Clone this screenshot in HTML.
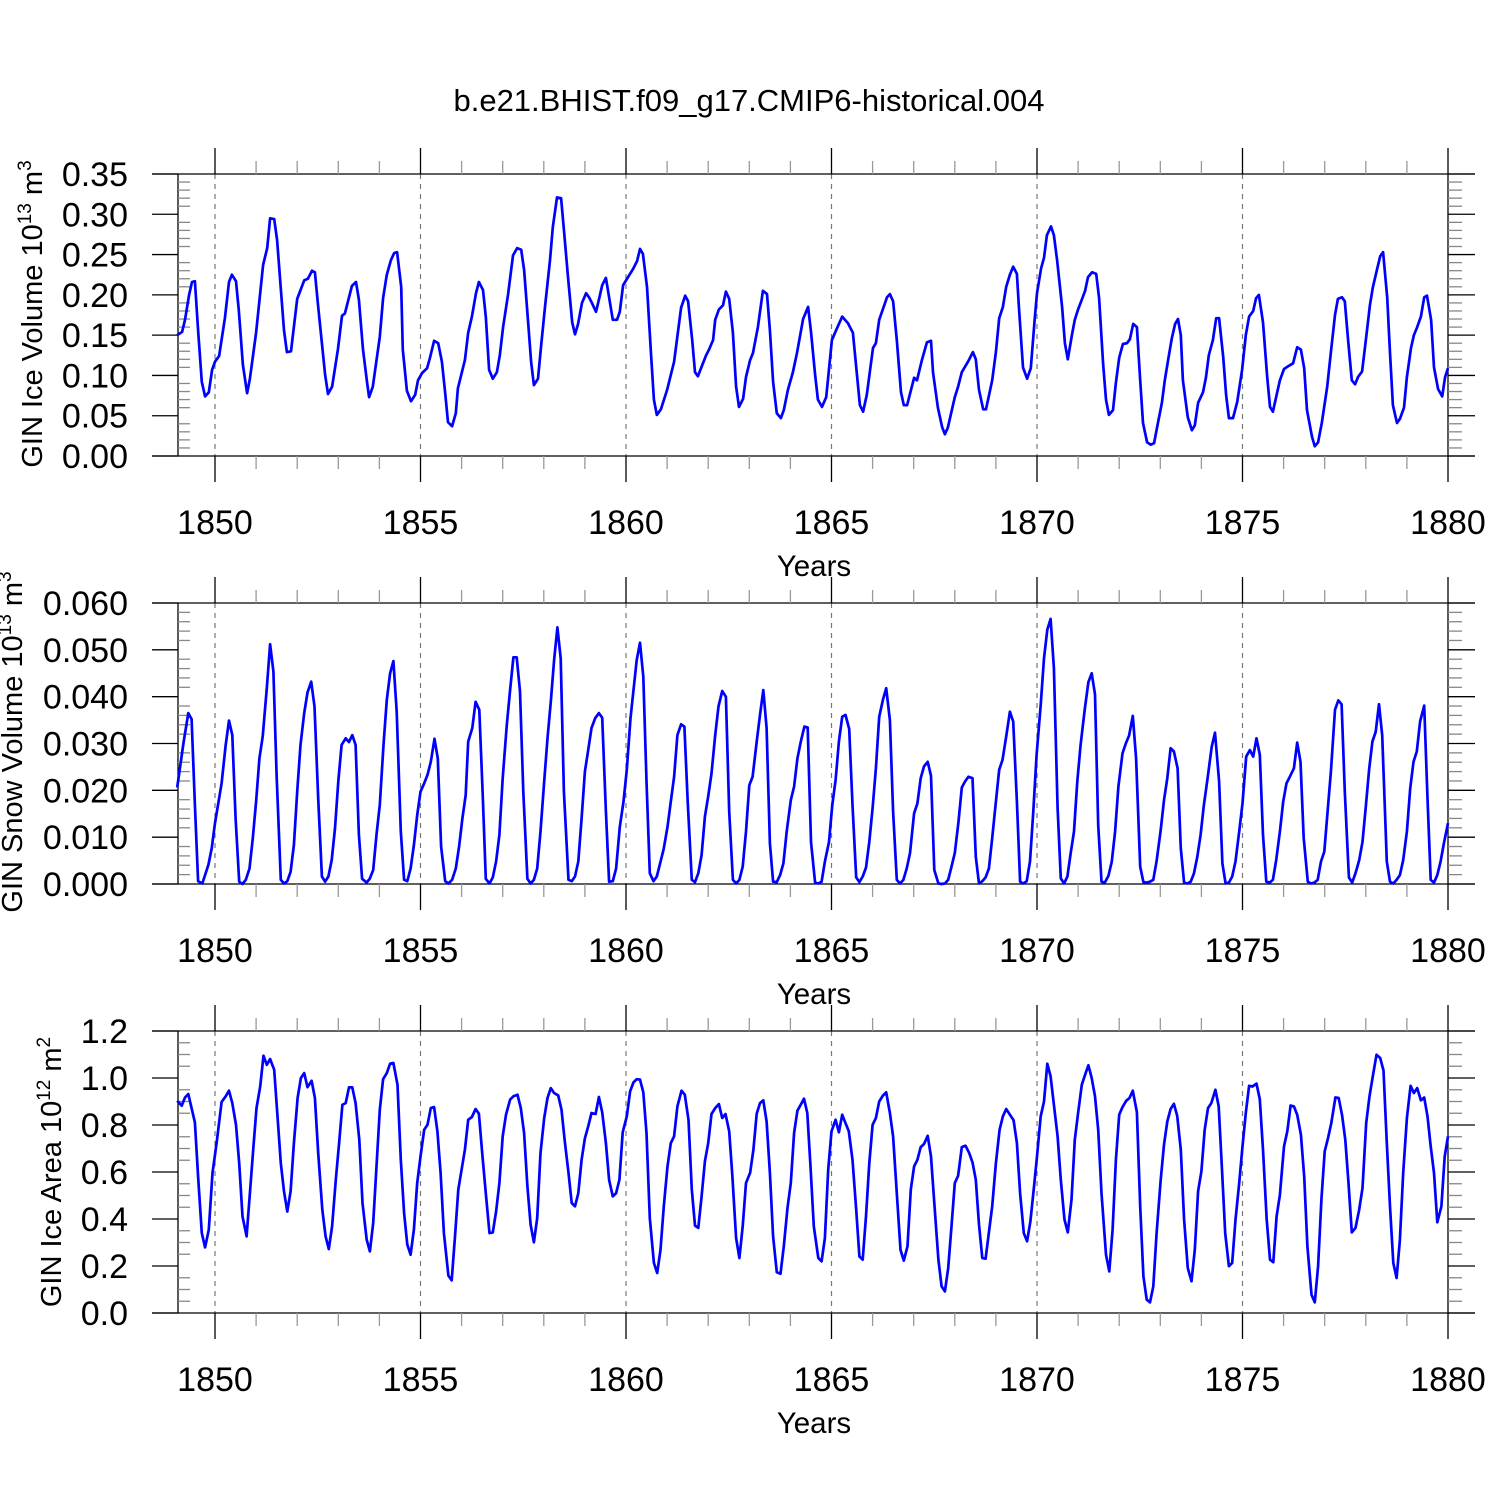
<!DOCTYPE html>
<html>
<head>
<meta charset="utf-8">
<style>
  html,body{margin:0;padding:0;background:#fff;}
  svg{display:block;}
  text{font-family:"Liberation Sans",Arial,sans-serif;fill:#000;}
</style>
</head>
<body>
<svg id="chart" width="1500" height="1500" viewBox="0 0 1500 1500" xmlns="http://www.w3.org/2000/svg">
  <rect x="0" y="0" width="1500" height="1500" fill="#fff"/>
  <text x="749" y="111" font-size="31" text-anchor="middle">b.e21.BHIST.f09_g17.CMIP6-historical.004</text>

  <text transform="translate(42,314) rotate(-90)" font-size="29" text-anchor="middle">GIN Ice Volume 10<tspan dy="-11" font-size="19">13</tspan><tspan dy="11"> m</tspan><tspan dy="-11" font-size="19">3</tspan></text>
  <text transform="translate(22,742) rotate(-90)" font-size="29" text-anchor="middle">GIN Snow Volume 10<tspan dy="-11" font-size="19">13</tspan><tspan dy="11"> m</tspan><tspan dy="-11" font-size="19">3</tspan></text>
  <text transform="translate(61,1172) rotate(-90)" font-size="29" text-anchor="middle">GIN Ice Area 10<tspan dy="-11" font-size="19">12</tspan><tspan dy="11"> m</tspan><tspan dy="-11" font-size="19">2</tspan></text>

  <g id="panels"></g>
</svg>
<script>
// ---------- Panel 1: GIN Ice Volume (10^13 m^3) ----------
const iceVolYears = [1849.08,1849.20,1849.27,1849.37,1849.44,1849.51,1849.59,1849.68,1849.76,1849.85,1849.93,1850.00,1850.10,1850.24,1850.34,1850.41,1850.51,1850.58,1850.68,1850.78,1850.85,1851.00,1851.17,1851.27,1851.34,1851.44,1851.51,1851.68,1851.75,1851.85,1852.00,1852.17,1852.26,1852.36,1852.43,1852.51,1852.68,1852.75,1852.85,1852.99,1853.09,1853.16,1853.33,1853.43,1853.50,1853.60,1853.70,1853.75,1853.84,1854.01,1854.09,1854.18,1854.28,1854.36,1854.43,1854.53,1854.57,1854.67,1854.77,1854.87,1854.94,1855.04,1855.16,1855.23,1855.33,1855.43,1855.52,1855.60,1855.67,1855.77,1855.86,1855.91,1856.08,1856.16,1856.25,1856.35,1856.42,1856.52,1856.59,1856.67,1856.76,1856.86,1856.93,1857.01,1857.13,1857.25,1857.35,1857.45,1857.52,1857.62,1857.69,1857.76,1857.86,1857.93,1858.03,1858.15,1858.22,1858.32,1858.42,1858.49,1858.59,1858.69,1858.76,1858.83,1858.93,1859.03,1859.10,1859.17,1859.27,1859.34,1859.42,1859.51,1859.68,1859.78,1859.85,1859.93,1860.17,1860.27,1860.34,1860.41,1860.51,1860.61,1860.68,1860.75,1860.85,1861.00,1861.17,1861.34,1861.44,1861.51,1861.61,1861.68,1861.75,1861.95,1862.02,1862.12,1862.17,1862.26,1862.36,1862.43,1862.51,1862.60,1862.68,1862.75,1862.85,1862.92,1863.02,1863.09,1863.21,1863.33,1863.43,1863.50,1863.58,1863.67,1863.77,1863.84,1863.94,1864.06,1864.16,1864.31,1864.43,1864.50,1864.60,1864.67,1864.77,1864.87,1865.01,1865.13,1865.26,1865.40,1865.52,1865.69,1865.77,1865.86,1866.01,1866.08,1866.16,1866.35,1866.42,1866.50,1866.59,1866.69,1866.76,1866.84,1867.01,1867.08,1867.20,1867.32,1867.42,1867.47,1867.59,1867.69,1867.76,1867.83,1868.00,1868.08,1868.17,1868.32,1868.44,1868.51,1868.59,1868.69,1868.76,1868.91,1869.00,1869.08,1869.17,1869.25,1869.34,1869.42,1869.51,1869.56,1869.66,1869.76,1869.85,1869.95,1870.00,1870.10,1870.17,1870.24,1870.34,1870.41,1870.49,1870.61,1870.68,1870.75,1870.85,1870.92,1871.00,1871.09,1871.17,1871.24,1871.34,1871.44,1871.51,1871.61,1871.68,1871.75,1871.85,1871.92,1872.00,1872.09,1872.19,1872.26,1872.34,1872.43,1872.51,1872.58,1872.68,1872.77,1872.85,1872.92,1873.04,1873.11,1873.19,1873.28,1873.36,1873.43,1873.50,1873.55,1873.67,1873.77,1873.84,1873.92,1874.04,1874.11,1874.18,1874.28,1874.36,1874.43,1874.53,1874.60,1874.67,1874.77,1874.87,1874.99,1875.08,1875.16,1875.26,1875.33,1875.40,1875.50,1875.60,1875.67,1875.74,1875.84,1875.91,1876.01,1876.13,1876.23,1876.33,1876.42,1876.50,1876.57,1876.69,1876.76,1876.84,1876.93,1877.06,1877.15,1877.25,1877.32,1877.42,1877.49,1877.57,1877.66,1877.74,1877.81,1877.91,1878.03,1878.10,1878.17,1878.27,1878.35,1878.42,1878.52,1878.59,1878.66,1878.76,1878.83,1878.93,1879.00,1879.10,1879.17,1879.25,1879.34,1879.42,1879.49,1879.59,1879.66,1879.76,1879.86,1879.93,1880.00];
const iceVolValues = [0.150,0.154,0.169,0.200,0.216,0.217,0.156,0.092,0.074,0.079,0.107,0.117,0.124,0.171,0.216,0.225,0.217,0.181,0.113,0.078,0.096,0.153,0.237,0.258,0.295,0.294,0.268,0.156,0.129,0.130,0.195,0.218,0.220,0.230,0.228,0.185,0.101,0.077,0.086,0.132,0.174,0.177,0.211,0.216,0.194,0.132,0.091,0.073,0.086,0.148,0.196,0.225,0.243,0.252,0.253,0.210,0.132,0.081,0.068,0.076,0.094,0.103,0.109,0.122,0.143,0.140,0.117,0.078,0.042,0.037,0.053,0.084,0.119,0.153,0.173,0.202,0.216,0.206,0.173,0.107,0.096,0.104,0.125,0.160,0.200,0.249,0.258,0.256,0.231,0.165,0.117,0.088,0.096,0.134,0.185,0.243,0.284,0.321,0.320,0.281,0.222,0.166,0.151,0.163,0.190,0.202,0.197,0.190,0.179,0.194,0.212,0.221,0.169,0.169,0.179,0.212,0.232,0.242,0.257,0.251,0.210,0.125,0.070,0.051,0.058,0.082,0.117,0.184,0.199,0.192,0.144,0.104,0.099,0.125,0.132,0.144,0.169,0.182,0.187,0.204,0.195,0.153,0.086,0.061,0.071,0.098,0.119,0.128,0.160,0.205,0.201,0.156,0.092,0.053,0.047,0.057,0.082,0.104,0.128,0.170,0.185,0.154,0.101,0.070,0.061,0.073,0.144,0.158,0.173,0.165,0.153,0.063,0.055,0.076,0.134,0.140,0.169,0.197,0.201,0.192,0.144,0.079,0.063,0.063,0.097,0.094,0.119,0.141,0.143,0.104,0.060,0.036,0.027,0.035,0.073,0.086,0.104,0.117,0.129,0.120,0.082,0.058,0.058,0.094,0.129,0.171,0.185,0.210,0.225,0.235,0.226,0.185,0.110,0.096,0.109,0.173,0.202,0.233,0.246,0.274,0.285,0.274,0.243,0.185,0.140,0.120,0.150,0.169,0.182,0.194,0.205,0.222,0.228,0.226,0.196,0.113,0.070,0.051,0.057,0.091,0.122,0.139,0.140,0.145,0.164,0.160,0.094,0.041,0.017,0.014,0.016,0.035,0.066,0.094,0.119,0.146,0.164,0.170,0.150,0.094,0.048,0.032,0.038,0.066,0.079,0.097,0.125,0.144,0.171,0.171,0.123,0.076,0.047,0.047,0.067,0.107,0.150,0.173,0.180,0.196,0.200,0.166,0.098,0.061,0.055,0.078,0.094,0.108,0.112,0.115,0.135,0.132,0.109,0.057,0.024,0.012,0.017,0.041,0.086,0.129,0.175,0.195,0.197,0.192,0.144,0.094,0.089,0.098,0.105,0.156,0.187,0.209,0.231,0.248,0.253,0.197,0.128,0.063,0.041,0.046,0.060,0.098,0.134,0.150,0.160,0.173,0.197,0.199,0.169,0.110,0.083,0.074,0.098,0.109];
const iceVolTicks = ["0.00","0.05","0.10","0.15","0.20","0.25","0.30","0.35"];

// ---------- Panel 2: GIN Snow Volume (10^13 m^3) ----------
const snowVolYears = [1849.08,1849.23,1849.35,1849.43,1849.51,1849.59,1849.69,1849.84,1849.92,1850.00,1850.16,1850.26,1850.34,1850.42,1850.50,1850.59,1850.67,1850.75,1850.84,1850.92,1851.00,1851.08,1851.16,1851.26,1851.34,1851.42,1851.50,1851.60,1851.68,1851.76,1851.84,1851.92,1852.00,1852.08,1852.17,1852.25,1852.34,1852.42,1852.51,1852.60,1852.68,1852.76,1852.84,1852.92,1853.00,1853.08,1853.18,1853.26,1853.34,1853.42,1853.50,1853.58,1853.69,1853.77,1853.85,1853.93,1854.01,1854.10,1854.18,1854.26,1854.34,1854.42,1854.52,1854.60,1854.68,1854.76,1854.84,1854.92,1855.00,1855.09,1855.17,1855.25,1855.34,1855.42,1855.50,1855.60,1855.68,1855.77,1855.86,1855.94,1856.02,1856.10,1856.16,1856.26,1856.34,1856.43,1856.51,1856.59,1856.68,1856.76,1856.84,1856.92,1857.00,1857.10,1857.18,1857.26,1857.34,1857.42,1857.50,1857.60,1857.68,1857.76,1857.84,1857.92,1858.01,1858.09,1858.17,1858.25,1858.33,1858.41,1858.49,1858.60,1858.68,1858.76,1858.84,1858.92,1859.00,1859.08,1859.16,1859.25,1859.34,1859.42,1859.51,1859.59,1859.68,1859.76,1859.85,1859.94,1860.02,1860.11,1860.26,1860.34,1860.42,1860.50,1860.58,1860.67,1860.75,1860.83,1860.92,1861.01,1861.09,1861.17,1861.25,1861.34,1861.42,1861.50,1861.60,1861.68,1861.76,1861.84,1861.92,1862.00,1862.08,1862.17,1862.25,1862.34,1862.43,1862.51,1862.60,1862.68,1862.76,1862.84,1862.92,1863.00,1863.08,1863.18,1863.26,1863.34,1863.42,1863.50,1863.58,1863.67,1863.75,1863.83,1863.91,1864.01,1864.09,1864.17,1864.25,1864.34,1864.42,1864.50,1864.60,1864.68,1864.76,1864.84,1864.94,1865.02,1865.10,1865.18,1865.26,1865.34,1865.43,1865.51,1865.60,1865.68,1865.76,1865.84,1865.92,1866.00,1866.08,1866.16,1866.25,1866.33,1866.42,1866.50,1866.59,1866.67,1866.75,1866.83,1866.91,1867.01,1867.09,1867.17,1867.25,1867.34,1867.42,1867.50,1867.60,1867.68,1867.76,1867.84,1867.92,1868.00,1868.09,1868.17,1868.25,1868.33,1868.43,1868.51,1868.59,1868.67,1868.75,1868.83,1868.91,1869.00,1869.08,1869.16,1869.25,1869.34,1869.42,1869.51,1869.59,1869.67,1869.75,1869.83,1869.91,1869.99,1870.09,1870.17,1870.25,1870.33,1870.41,1870.50,1870.58,1870.66,1870.74,1870.82,1870.90,1870.98,1871.06,1871.16,1871.25,1871.33,1871.41,1871.49,1871.57,1871.65,1871.74,1871.82,1871.90,1871.98,1872.08,1872.16,1872.24,1872.33,1872.41,1872.51,1872.59,1872.67,1872.75,1872.83,1872.91,1873.01,1873.09,1873.17,1873.25,1873.33,1873.42,1873.50,1873.58,1873.66,1873.74,1873.82,1873.90,1873.98,1874.06,1874.15,1874.25,1874.33,1874.43,1874.51,1874.59,1874.67,1874.75,1874.83,1874.92,1875.00,1875.09,1875.18,1875.26,1875.34,1875.42,1875.50,1875.58,1875.66,1875.74,1875.82,1875.91,1875.99,1876.07,1876.15,1876.25,1876.33,1876.41,1876.49,1876.59,1876.67,1876.75,1876.83,1876.91,1876.99,1877.07,1877.15,1877.25,1877.33,1877.41,1877.49,1877.59,1877.67,1877.75,1877.84,1877.92,1878.00,1878.08,1878.16,1878.24,1878.32,1878.40,1878.51,1878.59,1878.67,1878.75,1878.83,1878.91,1879.00,1879.08,1879.16,1879.24,1879.32,1879.42,1879.50,1879.58,1879.66,1879.74,1879.82,1879.90,1880.00];
const snowVolValues = [0.0206,0.0300,0.0365,0.0352,0.0169,0.0006,0.0001,0.0041,0.0076,0.0130,0.0215,0.0297,0.0349,0.0318,0.0140,0.0005,0.0000,0.0009,0.0033,0.0098,0.0176,0.0268,0.0315,0.0418,0.0512,0.0454,0.0233,0.0009,0.0001,0.0006,0.0026,0.0083,0.0197,0.0297,0.0365,0.0409,0.0432,0.0379,0.0183,0.0016,0.0005,0.0016,0.0051,0.0119,0.0219,0.0297,0.0311,0.0303,0.0318,0.0297,0.0105,0.0011,0.0003,0.0012,0.0030,0.0105,0.0169,0.0297,0.0393,0.0450,0.0476,0.0368,0.0112,0.0009,0.0006,0.0033,0.0083,0.0147,0.0197,0.0215,0.0233,0.0261,0.0310,0.0268,0.0080,0.0006,0.0001,0.0009,0.0033,0.0080,0.0140,0.0190,0.0304,0.0333,0.0389,0.0372,0.0197,0.0011,0.0001,0.0014,0.0048,0.0105,0.0226,0.0340,0.0414,0.0484,0.0484,0.0411,0.0197,0.0011,0.0001,0.0009,0.0033,0.0112,0.0219,0.0311,0.0389,0.0478,0.0548,0.0482,0.0197,0.0009,0.0006,0.0016,0.0048,0.0140,0.0240,0.0286,0.0333,0.0354,0.0365,0.0355,0.0155,0.0005,0.0006,0.0033,0.0122,0.0176,0.0244,0.0354,0.0478,0.0515,0.0443,0.0219,0.0023,0.0006,0.0016,0.0044,0.0076,0.0122,0.0176,0.0229,0.0318,0.0341,0.0336,0.0176,0.0009,0.0004,0.0023,0.0062,0.0144,0.0187,0.0236,0.0318,0.0379,0.0412,0.0400,0.0155,0.0009,0.0001,0.0009,0.0037,0.0112,0.0211,0.0229,0.0304,0.0361,0.0414,0.0333,0.0087,0.0005,0.0004,0.0019,0.0044,0.0112,0.0179,0.0208,0.0268,0.0303,0.0336,0.0334,0.0090,0.0003,0.0001,0.0005,0.0048,0.0090,0.0169,0.0222,0.0304,0.0357,0.0361,0.0331,0.0169,0.0014,0.0004,0.0016,0.0035,0.0090,0.0162,0.0247,0.0357,0.0393,0.0418,0.0350,0.0155,0.0009,0.0001,0.0009,0.0033,0.0066,0.0151,0.0172,0.0226,0.0251,0.0261,0.0231,0.0030,0.0001,0.0000,0.0001,0.0009,0.0037,0.0066,0.0133,0.0206,0.0219,0.0229,0.0226,0.0058,0.0001,0.0006,0.0014,0.0033,0.0098,0.0176,0.0244,0.0265,0.0315,0.0368,0.0347,0.0176,0.0005,0.0001,0.0006,0.0048,0.0155,0.0276,0.0382,0.0482,0.0543,0.0566,0.0461,0.0162,0.0012,0.0001,0.0016,0.0066,0.0112,0.0219,0.0297,0.0372,0.0431,0.0450,0.0405,0.0126,0.0005,0.0003,0.0018,0.0048,0.0112,0.0208,0.0279,0.0300,0.0317,0.0359,0.0268,0.0037,0.0004,0.0003,0.0005,0.0009,0.0049,0.0115,0.0179,0.0226,0.0290,0.0283,0.0247,0.0076,0.0003,0.0001,0.0005,0.0023,0.0058,0.0105,0.0169,0.0226,0.0293,0.0323,0.0219,0.0044,0.0001,0.0003,0.0016,0.0048,0.0112,0.0172,0.0272,0.0286,0.0272,0.0311,0.0276,0.0105,0.0005,0.0003,0.0009,0.0051,0.0112,0.0176,0.0215,0.0229,0.0247,0.0302,0.0261,0.0098,0.0005,0.0001,0.0003,0.0009,0.0048,0.0069,0.0155,0.0240,0.0372,0.0392,0.0384,0.0197,0.0014,0.0003,0.0023,0.0051,0.0090,0.0165,0.0244,0.0304,0.0325,0.0384,0.0318,0.0048,0.0005,0.0001,0.0009,0.0019,0.0051,0.0112,0.0204,0.0261,0.0283,0.0347,0.0381,0.0183,0.0009,0.0003,0.0019,0.0048,0.0087,0.0130];
const snowVolTicks = ["0.000","0.010","0.020","0.030","0.040","0.050","0.060"];

// ---------- Panel 3: GIN Ice Area (10^12 m^2) ----------
const iceAreaYears = [1849.08,1849.19,1849.27,1849.35,1849.51,1849.59,1849.68,1849.76,1849.85,1849.94,1850.04,1850.16,1850.26,1850.34,1850.42,1850.51,1850.59,1850.67,1850.77,1850.85,1850.93,1851.01,1851.10,1851.18,1851.26,1851.34,1851.44,1851.52,1851.60,1851.68,1851.76,1851.84,1851.92,1852.01,1852.09,1852.17,1852.25,1852.35,1852.43,1852.51,1852.61,1852.69,1852.77,1852.85,1852.94,1853.02,1853.10,1853.18,1853.26,1853.34,1853.42,1853.51,1853.59,1853.69,1853.77,1853.85,1853.93,1854.01,1854.09,1854.18,1854.26,1854.34,1854.44,1854.52,1854.60,1854.68,1854.76,1854.84,1854.92,1855.00,1855.09,1855.17,1855.25,1855.33,1855.41,1855.49,1855.57,1855.68,1855.76,1855.84,1855.92,1856.00,1856.08,1856.16,1856.25,1856.34,1856.42,1856.50,1856.59,1856.68,1856.76,1856.84,1856.92,1857.00,1857.08,1857.18,1857.26,1857.36,1857.44,1857.52,1857.60,1857.68,1857.76,1857.84,1857.92,1858.01,1858.09,1858.17,1858.25,1858.35,1858.43,1858.51,1858.60,1858.68,1858.76,1858.84,1858.92,1859.00,1859.08,1859.16,1859.26,1859.34,1859.42,1859.51,1859.59,1859.68,1859.76,1859.84,1859.92,1860.02,1860.10,1860.18,1860.26,1860.34,1860.42,1860.50,1860.58,1860.68,1860.76,1860.84,1860.92,1861.01,1861.09,1861.17,1861.25,1861.35,1861.43,1861.52,1861.60,1861.68,1861.76,1861.84,1861.92,1862.00,1862.08,1862.17,1862.26,1862.34,1862.42,1862.51,1862.59,1862.68,1862.76,1862.84,1862.92,1863.02,1863.10,1863.18,1863.26,1863.34,1863.42,1863.50,1863.58,1863.67,1863.76,1863.84,1863.93,1864.01,1864.09,1864.17,1864.25,1864.33,1864.41,1864.49,1864.57,1864.68,1864.76,1864.84,1864.92,1865.00,1865.10,1865.18,1865.26,1865.34,1865.42,1865.51,1865.60,1865.68,1865.76,1865.84,1865.92,1866.00,1866.08,1866.16,1866.25,1866.33,1866.42,1866.50,1866.59,1866.68,1866.76,1866.85,1866.93,1867.01,1867.09,1867.17,1867.25,1867.34,1867.42,1867.50,1867.60,1867.68,1867.76,1867.84,1867.92,1868.00,1868.08,1868.17,1868.26,1868.35,1868.43,1868.51,1868.59,1868.67,1868.75,1868.83,1868.91,1869.00,1869.09,1869.17,1869.25,1869.34,1869.43,1869.51,1869.59,1869.68,1869.76,1869.84,1869.92,1870.00,1870.09,1870.17,1870.25,1870.33,1870.41,1870.50,1870.58,1870.67,1870.75,1870.84,1870.92,1871.00,1871.09,1871.17,1871.25,1871.33,1871.41,1871.49,1871.57,1871.68,1871.76,1871.84,1871.92,1872.00,1872.08,1872.17,1872.25,1872.33,1872.43,1872.51,1872.59,1872.67,1872.75,1872.83,1872.91,1873.01,1873.09,1873.17,1873.25,1873.33,1873.41,1873.50,1873.58,1873.67,1873.76,1873.84,1873.92,1874.00,1874.08,1874.16,1874.24,1874.34,1874.42,1874.50,1874.58,1874.67,1874.75,1874.83,1874.92,1875.00,1875.08,1875.16,1875.24,1875.34,1875.42,1875.50,1875.59,1875.67,1875.75,1875.83,1875.91,1876.01,1876.09,1876.17,1876.25,1876.33,1876.42,1876.50,1876.58,1876.68,1876.76,1876.84,1876.92,1877.00,1877.08,1877.16,1877.26,1877.34,1877.42,1877.50,1877.58,1877.66,1877.75,1877.84,1877.92,1878.01,1878.09,1878.17,1878.26,1878.35,1878.43,1878.51,1878.59,1878.67,1878.75,1878.83,1878.91,1879.00,1879.09,1879.17,1879.25,1879.34,1879.42,1879.50,1879.58,1879.66,1879.74,1879.84,1879.92,1880.00];
const iceAreaValues = [0.903,0.882,0.917,0.932,0.811,0.581,0.340,0.279,0.355,0.596,0.723,0.898,0.922,0.946,0.893,0.801,0.638,0.411,0.326,0.510,0.695,0.872,0.964,1.095,1.056,1.081,1.035,0.837,0.638,0.518,0.432,0.518,0.723,0.915,1.000,1.021,0.961,0.988,0.915,0.681,0.440,0.326,0.272,0.369,0.567,0.723,0.886,0.893,0.960,0.960,0.893,0.737,0.468,0.312,0.262,0.383,0.624,0.865,0.995,1.021,1.061,1.064,0.971,0.652,0.425,0.291,0.248,0.355,0.553,0.666,0.780,0.801,0.872,0.876,0.773,0.596,0.340,0.159,0.139,0.326,0.525,0.610,0.695,0.822,0.834,0.868,0.848,0.681,0.510,0.340,0.343,0.432,0.553,0.752,0.844,0.908,0.922,0.929,0.872,0.766,0.539,0.376,0.301,0.404,0.681,0.830,0.915,0.957,0.936,0.926,0.865,0.730,0.596,0.468,0.454,0.510,0.652,0.744,0.794,0.851,0.847,0.919,0.854,0.723,0.567,0.496,0.510,0.567,0.769,0.837,0.943,0.981,0.995,0.993,0.939,0.766,0.404,0.213,0.170,0.269,0.454,0.624,0.723,0.752,0.879,0.946,0.929,0.822,0.525,0.372,0.362,0.496,0.645,0.723,0.847,0.872,0.889,0.830,0.847,0.773,0.581,0.319,0.234,0.369,0.553,0.596,0.695,0.848,0.893,0.905,0.815,0.596,0.326,0.173,0.167,0.284,0.447,0.553,0.766,0.861,0.886,0.912,0.851,0.624,0.369,0.234,0.220,0.319,0.610,0.773,0.822,0.769,0.844,0.808,0.773,0.652,0.440,0.241,0.227,0.411,0.638,0.801,0.830,0.900,0.925,0.939,0.851,0.752,0.510,0.269,0.223,0.284,0.525,0.624,0.652,0.706,0.719,0.754,0.666,0.468,0.227,0.113,0.092,0.191,0.369,0.553,0.584,0.706,0.712,0.681,0.641,0.567,0.376,0.234,0.231,0.343,0.454,0.638,0.780,0.837,0.868,0.844,0.820,0.723,0.510,0.340,0.305,0.390,0.525,0.666,0.837,0.900,1.061,1.007,0.886,0.752,0.567,0.397,0.343,0.482,0.737,0.851,0.971,1.014,1.054,1.000,0.922,0.780,0.510,0.248,0.177,0.355,0.652,0.844,0.876,0.903,0.915,0.946,0.854,0.454,0.156,0.057,0.045,0.113,0.340,0.567,0.716,0.815,0.868,0.890,0.839,0.695,0.397,0.191,0.135,0.269,0.518,0.603,0.780,0.872,0.893,0.950,0.879,0.610,0.340,0.199,0.213,0.397,0.553,0.709,0.851,0.967,0.964,0.976,0.910,0.695,0.397,0.227,0.216,0.411,0.503,0.709,0.773,0.883,0.879,0.844,0.759,0.581,0.284,0.078,0.045,0.199,0.482,0.688,0.744,0.808,0.917,0.915,0.844,0.737,0.553,0.343,0.362,0.440,0.532,0.808,0.922,1.007,1.099,1.085,1.032,0.723,0.454,0.213,0.149,0.312,0.596,0.830,0.967,0.936,0.957,0.905,0.917,0.837,0.709,0.596,0.386,0.454,0.666,0.752];
const iceAreaTicks = ["0.0","0.2","0.4","0.6","0.8","1.0","1.2"];

const xTickYears = [1850,1855,1860,1865,1870,1875,1880];

const NS = "http://www.w3.org/2000/svg";
const root = document.getElementById("panels");
const X0 = 215, XPY = 41.1;
function xScale(t){ return X0 + (t - 1850) * XPY; }

function el(tag, attrs, parent){
  const e = document.createElementNS(NS, tag);
  for (const k in attrs) e.setAttribute(k, attrs[k]);
  (parent || root).appendChild(e);
  return e;
}

function drawPanel(p){
  const g = el("g", {});
  
  
  const yScale = v => p.y1 - (v - p.ymin) / (p.ymax - p.ymin) * (p.y1 - p.y0);
  const L = 178, R = 1448, FL = 152, FR = 1475;

  xTickYears.forEach(yr => {
    const x = xScale(yr);
    if (yr > 1849.2 && yr < 1879.9) {
      const d = el("line", {x1:x, x2:x, y1:p.y0, y2:p.y1, stroke:"#777", "stroke-width":1.2, "stroke-dasharray":"5,5"}, g);
      
      
    }
  });

  el("line", {x1:FL, x2:FR, y1:p.y0, y2:p.y0, stroke:"#000", "stroke-width":1.3}, g);
  el("line", {x1:FL, x2:FR, y1:p.y1, y2:p.y1, stroke:"#000", "stroke-width":1.3}, g);
  const la = el("line", {x1:L, x2:L, y1:p.y0, y2:p.y1, stroke:"#000", "stroke-width":1.3}, g);
  
  
  el("line", {x1:R, x2:R, y1:p.y0, y2:p.y1, stroke:"#000", "stroke-width":1.3}, g);

  for (let yr = 1850; yr <= 1880; yr++) {
    const x = xScale(yr);
    const major = (yr % 5 === 0);
    const len = major ? 26 : 13;
    const col = major ? "#000" : "#999";
    el("line", {x1:x, x2:x, y1:p.y0 - len, y2:p.y0, stroke:col, "stroke-width":1.3}, g);
    el("line", {x1:x, x2:x, y1:p.y1, y2:p.y1 + len, stroke:col, "stroke-width":1.3}, g);
  }
  xTickYears.forEach(yr => {
    const t = el("text", {x:xScale(yr), y:p.y1 + 78, "font-size":34, "text-anchor":"middle"}, g);
    t.textContent = yr;
    
    
  });
  const xt = el("text", {x:814, y:p.y1 + 120, "font-size":29.5, "text-anchor":"middle"}, g);
  xt.textContent = "Years";
  
  

  const nMinor = Math.round((p.ymax - p.ymin) / p.minor);
  for (let i = 0; i <= nMinor; i++) {
    const v = p.ymin + i * p.minor;
    const y = yScale(v);
    const isMajor = (i % p.perMajor === 0);
    if (isMajor) {
      el("line", {x1:FL, x2:L, y1:y, y2:y, stroke:"#000", "stroke-width":1.3}, g);
      el("line", {x1:R, x2:FR, y1:y, y2:y, stroke:"#000", "stroke-width":1.3}, g);
    } else {
      el("line", {x1:L, x2:L + 12, y1:y, y2:y, stroke:"#888", "stroke-width":1.3}, g);
      el("line", {x1:R, x2:R + 14, y1:y, y2:y, stroke:"#888", "stroke-width":1.3}, g);
    }
  }
  p.ticks.forEach((lab, i) => {
    const v = p.ymin + i * p.major;
    const t = el("text", {x:128, y:yScale(v) + 12, "font-size":34, "text-anchor":"end"}, g);
    t.textContent = lab;
    
    
  });

  let d = "";
  p.years.forEach((t, i) => {
    d += (i ? "L" : "M") + xScale(t).toFixed(1) + "," + yScale(p.values[i]).toFixed(1);
  });
  const path = el("path", {d:d, fill:"none", stroke:"#0000ff", "stroke-width":2.7, "stroke-linejoin":"round"}, g);
  
  
}

drawPanel({name:"ice-volume-panel", y0:174, y1:456, ymin:0, ymax:0.35, major:0.05, minor:0.01, perMajor:5, ticks:iceVolTicks, years:iceVolYears, values:iceVolValues});
drawPanel({name:"snow-volume-panel", y0:603, y1:884, ymin:0, ymax:0.06, major:0.01, minor:0.002, perMajor:5, ticks:snowVolTicks, years:snowVolYears, values:snowVolValues});
drawPanel({name:"ice-area-panel", y0:1031, y1:1313, ymin:0, ymax:1.2, major:0.2, minor:0.05, perMajor:4, ticks:iceAreaTicks, years:iceAreaYears, values:iceAreaValues});
</script>
</body>
</html>
